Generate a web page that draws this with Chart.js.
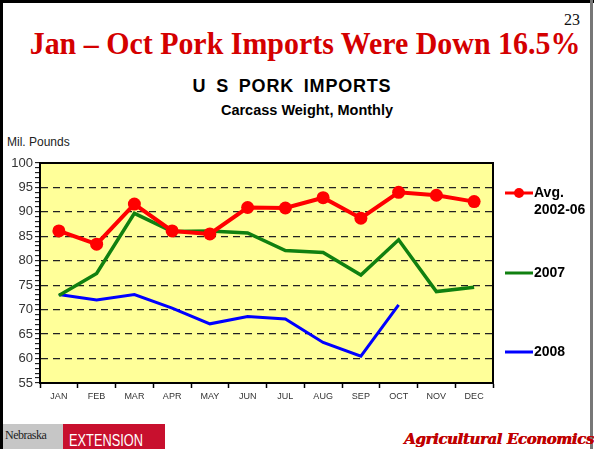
<html>
<head>
<style>
  body{ margin:0; width:594px; height:449px; overflow:hidden; background:#fff; position:relative; font-family:"Liberation Sans", Arial, sans-serif; }
  .t{ position:absolute; white-space:nowrap; }
  #frameL{ position:absolute; left:0; top:0; width:3px; height:449px; background:#000; }
  #frameT{ position:absolute; left:0; top:0; width:594px; height:3px; background:#000; }
  #frameR{ position:absolute; left:590px; top:0; width:3px; height:449px; background:#777; }
  #page{ right:14px; top:11px; font:16px "Liberation Serif", serif; color:#111; }
  #head{ left:0; width:610px; text-align:center; top:26px; font:bold 31px "Liberation Serif", serif; color:#d40000; transform:scaleX(0.965); transform-origin:305px 0; }
  #sub1{ left:0; width:584px; text-align:center; top:76px; font:bold 18px "Liberation Sans", Arial; letter-spacing:0.8px; word-spacing:4px; }
  #sub2{ left:0; width:614px; text-align:center; top:102px; font:bold 14.5px "Liberation Sans", Arial; }
  #unit{ left:7px; top:135px; font:12px "Liberation Sans", Arial; color:#222; }
  #neb{ position:absolute; left:3px; top:424px; width:60px; height:25px; background:#c6c6c6; }
  #ext{ position:absolute; left:63px; top:424px; width:102px; height:25px; background:#c8102e; overflow:hidden; }
  #nebT{ left:5px; top:428px; font:12px "Liberation Serif", serif; color:#222; letter-spacing:-0.5px; }
  #extT{ left:6px; top:8px; font:16px "Liberation Sans", Arial; color:#fff; transform:scaleX(0.8); transform-origin:0 0; }
  #agr{ left:404px; top:430px; font:italic bold 15px "DejaVu Serif", serif; color:#c00000; letter-spacing:-0.4px; text-shadow:0.6px 0 0 #c00000; }
  canvas{ position:absolute; left:0; top:0; }
</style>
<script src="https://cdn.jsdelivr.net/npm/chart.js"></script>
</head>
<body>
<div id="frameL"></div><div id="frameT"></div><div id="frameR"></div>
<div class="t" id="page">23</div>
<div class="t" id="head">Jan – Oct Pork Imports Were Down 16.5%</div>
<div class="t" id="sub1">U S  PORK  IMPORTS</div>
<div class="t" id="sub2">Carcass Weight, Monthly</div>
<div class="t" id="unit">Mil. Pounds</div>
<div id="neb"></div>
<div id="ext"><div class="t" id="extT">EXTENSION</div></div>
<div class="t" id="nebT">Nebraska</div>
<div class="t" id="agr">Agricultural Economics</div>

<canvas id="myChart" width="594" height="449"></canvas>

<script>
  var months = ['JAN', 'FEB', 'MAR', 'APR', 'MAY', 'JUN', 'JUL', 'AUG', 'SEP', 'OCT', 'NOV', 'DEC'];
  var avg0206 = [86.1, 83.4, 91.6, 86.1, 85.5, 90.9, 90.8, 92.9, 88.7, 94.0, 93.4, 92.1];
  var y2007 = [72.9, 77.4, 89.7, 86.0, 86.1, 85.7, 82.1, 81.7, 77.1, 84.3, 73.7, 74.6];
  var y2008 = [73.1, 72.0, 73.1, 70.3, 67.1, 68.6, 68.1, 63.3, 60.5, 71.0];
  var seriesNames = [['Avg.', '2002-06'], ['2007'], ['2008']];
  var yMin = 55, yMax = 100;

  // legend rows, y centre of each entry
  var legendY = [193, 273, 352];

  var plotBg = {
    id: 'plotBg',
    beforeDraw: function(chart) {
      var a = chart.chartArea, c = chart.ctx;
      c.save();
      c.fillStyle = '#ffff99';
      c.fillRect(a.left, a.top, a.right - a.left, a.bottom - a.top);
      c.restore();
    },
    afterDraw: function(chart) {
      var a = chart.chartArea, c = chart.ctx;
      c.save();
      c.strokeStyle = '#000';
      c.lineWidth = 2;
      c.strokeRect(a.left, a.top, a.right - a.left, a.bottom - a.top);
      // legend
      chart.data.datasets.forEach(function(ds, i) {
        var y = legendY[i];
        c.strokeStyle = ds.borderColor;
        c.lineWidth = 3;
        c.beginPath();
        c.moveTo(505, y);
        c.lineTo(533, y);
        c.stroke();
        if (ds.pointRadius > 0) {
          c.fillStyle = ds.borderColor;
          c.beginPath();
          c.arc(519, y, 5, 0, Math.PI * 2);
          c.fill();
        }
        c.fillStyle = '#000';
        c.font = 'bold 14px "Liberation Sans", Arial';
        c.textBaseline = 'middle';
        seriesNames[i].forEach(function(s, k) {
          c.fillText(s, 534, y + k * 17);
        });
      });
      c.restore();
    }
  };

  Chart.defaults.font.family = '"Liberation Sans", Arial, sans-serif';
  Chart.defaults.color = '#222';

  new Chart(document.getElementById('myChart'), {
    type: 'line',
    data: {
      labels: months,
      datasets: [{
        label: seriesNames[0].join(' '),
        data: avg0206,
        borderColor: '#ff0000',
        backgroundColor: '#ff0000',
        borderWidth: 4,
        pointRadius: 6.5,
        pointBorderWidth: 0,
        tension: 0
      }, {
        label: seriesNames[1][0],
        data: y2007,
        borderColor: '#108010',
        backgroundColor: '#108010',
        borderWidth: 3.5,
        pointRadius: 0,
        tension: 0
      }, {
        label: seriesNames[2][0],
        data: y2008,
        borderColor: '#0000ff',
        backgroundColor: '#0000ff',
        borderWidth: 3,
        pointRadius: 0,
        tension: 0
      }]
    },
    options: {
      responsive: false,
      animation: false,
      layout: { padding: { left: 4, right: 101, top: 163, bottom: 40 } },
      plugins: { legend: { display: false }, tooltip: { enabled: false } },
      scales: {
        x: {
          offset: true,
          grid: { offset: true, drawOnChartArea: false, tickLength: 5, tickColor: '#000', tickWidth: 1.5 },
          border: { color: '#000', width: 2 },
          ticks: { font: { size: 9 }, color: '#333', padding: 3, maxRotation: 0, autoSkip: false },
          afterFit: function(s) { s.height = 26; }
        },
        y: {
          min: yMin,
          max: yMax,
          grid: {
            tickLength: 5,
            tickWidth: 1,
            tickColor: '#000',
            lineWidth: 1.3,
            color: function(ctx) {
              var v = ctx.tick && ctx.tick.value;
              return (v % 5 === 0 && v > yMin && v < yMax) ? '#222' : 'rgba(0,0,0,0)';
            }
          },
          border: { color: '#000', width: 2, dash: [7, 5] },
          ticks: {
            stepSize: 1,
            autoSkip: false,
            font: { size: 13 },
            color: '#333',
            padding: 2,
            callback: function(v) { return v % 5 === 0 ? v : ''; }
          },
          afterFit: function(s) { s.width = 36; }
        }
      }
    },
    plugins: [plotBg]
  });
</script>
</body>
</html>
